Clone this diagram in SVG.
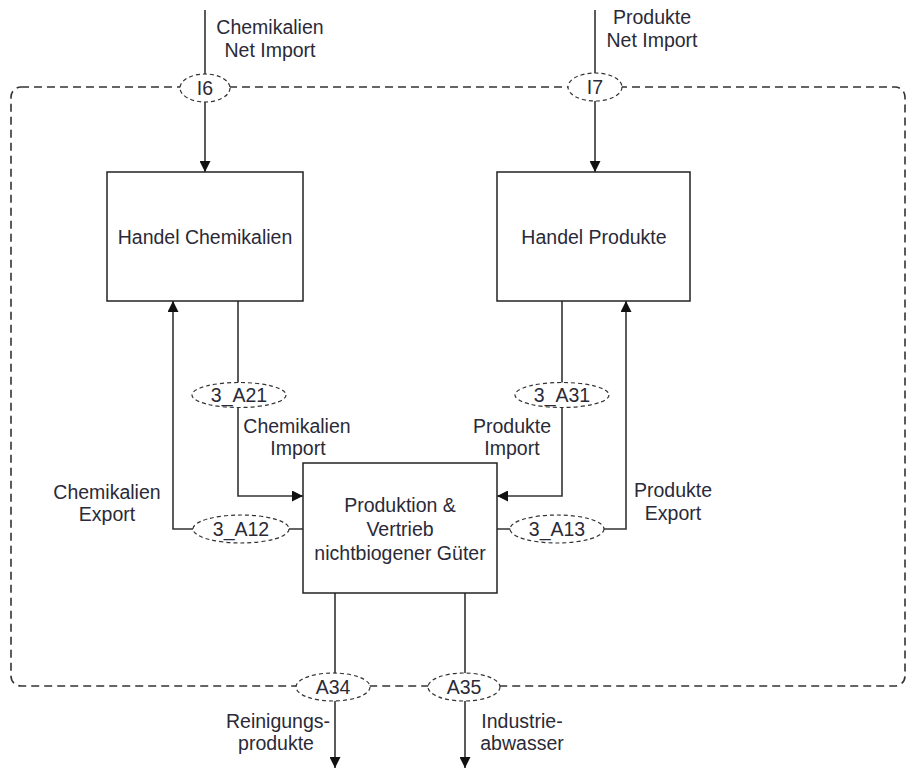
<svg xmlns="http://www.w3.org/2000/svg" width="907" height="769" viewBox="0 0 907 769">
<defs>
<marker id="ah" viewBox="0 0 10 10" refX="10" refY="5" markerWidth="11" markerHeight="11" markerUnits="userSpaceOnUse" orient="auto">
<path d="M0,0 L10,5 L0,10 z" fill="#111"/>
</marker>
<style>
.t{font-family:"Liberation Sans",Arial,sans-serif;font-size:19.5px;fill:#2a2a38;text-anchor:middle}
.box{fill:#fff;stroke:#222;stroke-width:1.5}
.ln{fill:none;stroke:#333;stroke-width:1.6}
.ell{fill:#fff;stroke:#333;stroke-width:1.2;stroke-dasharray:4 3}
.bnd{fill:none;stroke:#333;stroke-width:1.6;stroke-dasharray:8 5}
</style>
</defs>
<rect width="907" height="769" fill="#fff"/>
<rect class="bnd" x="11" y="87" width="894" height="599" rx="10" ry="10"/>
<g id="connectors">
<line class="ln" x1="205" y1="10" x2="205" y2="172" marker-end="url(#ah)"/>
<line class="ln" x1="595" y1="10" x2="595" y2="172" marker-end="url(#ah)"/>
<polyline class="ln" points="238,301 238,496 303,496" marker-end="url(#ah)"/>
<polyline class="ln" points="562,301 562,496 497,496" marker-end="url(#ah)"/>
<polyline class="ln" points="303,529 173,529 173,301" marker-end="url(#ah)"/>
<polyline class="ln" points="497,529 626,529 626,301" marker-end="url(#ah)"/>
<line class="ln" x1="335" y1="593" x2="335" y2="768" marker-end="url(#ah)"/>
<line class="ln" x1="465" y1="593" x2="465" y2="768" marker-end="url(#ah)"/>
</g>
<g id="I6"><ellipse class="ell" cx="205" cy="88" rx="25" ry="14"/><text class="t" x="205" y="95">I6</text></g>
<g id="I7"><ellipse class="ell" cx="595" cy="87" rx="27" ry="14"/><text class="t" x="595" y="94">I7</text></g>
<g id="lbl-chem-net"><text class="t" x="270" y="34">Chemikalien</text><text class="t" x="270" y="57">Net Import</text></g>
<g id="lbl-prod-net"><text class="t" x="652" y="24">Produkte</text><text class="t" x="652" y="47">Net Import</text></g>
<g id="handel-chemikalien"><rect class="box" x="107" y="172" width="196" height="129"/><text class="t" x="205" y="244">Handel Chemikalien</text></g>
<g id="handel-produkte"><rect class="box" x="497" y="172" width="193" height="129"/><text class="t" x="594" y="244">Handel Produkte</text></g>
<g id="produktion"><rect class="box" x="303" y="463" width="194" height="130"/><text class="t" x="400" y="512">Produktion &amp;</text><text class="t" x="400" y="536">Vertrieb</text><text class="t" x="400" y="560">nichtbiogener Güter</text></g>
<g id="A21"><ellipse class="ell" cx="239" cy="395" rx="47" ry="12.5"/><text class="t" x="239" y="402">3_A21</text></g>
<g id="A31"><ellipse class="ell" cx="562" cy="395" rx="47" ry="12.5"/><text class="t" x="562" y="402">3_A31</text></g>
<g id="A12"><ellipse class="ell" cx="241" cy="529" rx="48" ry="14"/><text class="t" x="241" y="536">3_A12</text></g>
<g id="A13"><ellipse class="ell" cx="557" cy="529" rx="47" ry="14"/><text class="t" x="557" y="536">3_A13</text></g>
<g id="A34"><ellipse class="ell" cx="333" cy="687" rx="37" ry="14"/><text class="t" x="333" y="694">A34</text></g>
<g id="A35"><ellipse class="ell" cx="464" cy="687" rx="36" ry="14"/><text class="t" x="464" y="694">A35</text></g>
<g id="lbl-chem-import"><text class="t" x="297" y="433">Chemikalien</text><text class="t" x="298" y="455">Import</text></g>
<g id="lbl-prod-import"><text class="t" x="512" y="433">Produkte</text><text class="t" x="512" y="455">Import</text></g>
<g id="lbl-chem-export"><text class="t" x="107" y="499">Chemikalien</text><text class="t" x="107" y="521">Export</text></g>
<g id="lbl-prod-export"><text class="t" x="673" y="497">Produkte</text><text class="t" x="673" y="520">Export</text></g>
<g id="lbl-reinigung"><text class="t" x="278" y="728">Reinigungs-</text><text class="t" x="276" y="750">produkte</text></g>
<g id="lbl-abwasser"><text class="t" x="522" y="728">Industrie-</text><text class="t" x="522" y="750">abwasser</text></g>
</svg>
